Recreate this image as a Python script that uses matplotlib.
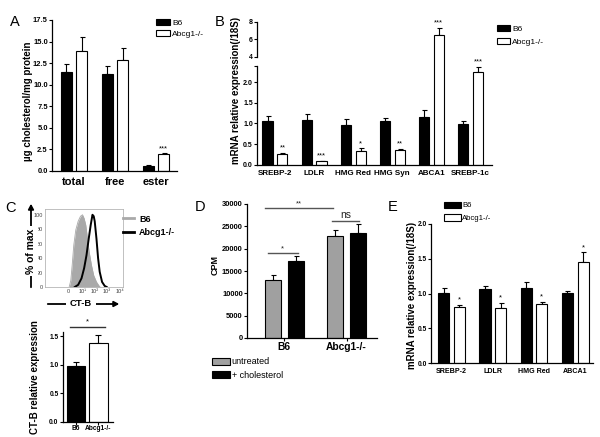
import numpy as np
import matplotlib
matplotlib.use('Agg')
import matplotlib.pyplot as plt
from matplotlib.patches import FancyArrowPatch

plt.rcParams['font.family'] = ['Liberation Sans', 'DejaVu Sans']
plt.rcParams['font.weight'] = 'bold'
plt.rcParams['axes.linewidth'] = 0.9

# ---------------- data ----------------
# Panel A
a_cats = ['total', 'free', 'ester']
a_b6 = [11.5, 11.2, 0.6]
a_b6_err = [0.9, 1.0, 0.1]
a_ko = [13.9, 12.8, 1.95]
a_ko_err = [1.6, 1.5, 0.1]
a_sig = ['', '', '***']

# Panel B
b_cats = ['SREBP-2', 'LDLR', 'HMG Red', 'HMG Syn', 'ABCA1', 'SREBP-1c']
b_b6 = [1.07, 1.09, 0.96, 1.05, 1.16, 0.99]
b_b6_err = [0.11, 0.13, 0.14, 0.08, 0.17, 0.08]
b_ko = [0.27, 0.08, 0.34, 0.35, 6.5, 2.24]
b_ko_err = [0.02, 0.01, 0.06, 0.04, 0.78, 0.14]
b_sig = ['**', '***', '*', '**', '***', '***']
b_yticks = [0, 0.5, 1.0, 1.5, 2.0, 4, 6, 8]
b_yticklabels = ['0.0', '0.5', '1.0', '1.5', '2.0', '4', '6', '8']

# Panel C histogram (x in display decades: 0, 10^1 ... 10^4)
h_ticks = [0, 1.12, 2.12, 3.12, 4.12]
h_ticklabels = ['0', '10¹', '10²', '10³', '10⁴']
h_b6_x = [0.08, 0.21, 0.32, 0.45, 0.61, 0.80, 0.99, 1.15, 1.28, 1.41, 1.55, 1.68, 1.87, 2.05, 2.27, 2.48, 2.56]
h_b6_y = [0, 9, 30, 58, 79, 91, 98, 100, 95, 86, 67, 49, 30, 16, 7, 1.5, 0]
h_ko_x = [0.53, 0.80, 1.07, 1.28, 1.47, 1.65, 1.81, 1.95, 2.05, 2.13, 2.27, 2.40, 2.53, 2.72, 2.93, 3.09]
h_ko_y = [0, 3, 12, 26, 44, 67, 86, 100, 98, 91, 67, 40, 21, 7, 1.5, 0]

# Panel C bars
c_groups = ['B6', 'Abcg1-/-']
c_vals = [0.98, 1.38]
c_err = [0.06, 0.15]

# Panel D
d_groups = ['B6', 'Abcg1-/-']
d_untreated = [12900, 22800]
d_untreated_err = [1100, 1350]
d_chol = [17200, 23400]
d_chol_err = [1100, 2100]

# Panel E
e_cats = ['SREBP-2', 'LDLR', 'HMG Red', 'ABCA1']
e_b6 = [1.01, 1.06, 1.075, 1.01]
e_b6_err = [0.065, 0.05, 0.085, 0.03]
e_ko = [0.80, 0.79, 0.85, 1.45]
e_ko_err = [0.04, 0.08, 0.03, 0.14]
e_sig = ['*', '*', '*', '*']

# ---------------- layout helpers ----------------
W, H = 600, 437
fig = plt.figure(figsize=(6, 4.37), dpi=100)


def fx(x):
    return x / W


def fy(y):
    return 1 - y / H


def add_ax(x0, y0, x1, y1):
    return fig.add_axes([x0 / W, 1 - y1 / H, (x1 - x0) / W, (y1 - y0) / H])


def style(ax, yfs, xfs, xtick_len=0, xpad=3.5):
    for s in ['top', 'right']:
        ax.spines[s].set_visible(False)
    ax.tick_params(axis='y', direction='out', length=2.2, width=0.8, pad=0.8, labelsize=yfs)
    ax.tick_params(axis='x', direction='out', length=xtick_len, width=0.8, pad=xpad, labelsize=xfs)


def grouped(ax, vals1, err1, vals2, err2, off, width, c1, c2):
    n = len(vals1)
    x = np.arange(n)
    b1 = ax.bar(x - off, vals1, width, color=c1, edgecolor='k', lw=0.8, zorder=2)
    b2 = ax.bar(x + off, vals2, width, color=c2, edgecolor='k', lw=0.8, zorder=2)
    ax.errorbar(x - off, vals1, yerr=[np.zeros(n), err1], fmt='none', ecolor='k',
                elinewidth=0.8, capsize=1.8, capthick=0.8, zorder=1.5)
    ax.errorbar(x + off, vals2, yerr=[np.zeros(n), err2], fmt='none', ecolor='k',
                elinewidth=0.8, capsize=1.8, capthick=0.8, zorder=1.5)
    return x, b1, b2


def stars(ax, xs, vals, errs, sigs, fs=5.5):
    for x, v, e, s in zip(xs, vals, errs, sigs):
        if s:
            ax.annotate(s, (x, v + e), xytext=(0, 0.8), textcoords='offset points',
                        ha='center', va='bottom', fontsize=fs, fontweight='normal')


def legend(ax, handles, labels, x, y, fs, hl, hh, ls, tp=0.25, weight='normal'):
    ax.legend(handles, labels, loc='upper left', bbox_to_anchor=(fx(x), fy(y)),
              bbox_transform=fig.transFigure, frameon=False, borderpad=0,
              borderaxespad=0, handlelength=hl, handleheight=hh, labelspacing=ls,
              handletextpad=tp, prop={'size': fs, 'weight': weight})


def ylab(ax, text, px, py, box, fs=7):
    x0, y0, x1, y1 = box
    ax.set_ylabel(text, fontsize=fs, fontweight='bold', va='center')
    ax.yaxis.set_label_coords((px - x0) / (x1 - x0), (y1 - py) / (y1 - y0))


def letter(t, x, y):
    fig.text(fx(x), fy(y), t, fontsize=10.5, fontweight='normal', ha='center', va='center')


# ---------------- Panel A ----------------
A = (52, 20, 177, 170.7)
axA = add_ax(*A)
xA, bA1, bA2 = grouped(axA, a_b6, a_b6_err, a_ko, a_ko_err, 0.19, 0.27, 'black', 'white')
stars(axA, xA + 0.19, a_ko, a_ko_err, a_sig)
axA.set_xlim(-0.54, 2.51)
axA.set_ylim(0, 17.5)
axA.set_yticks(np.arange(0, 17.6, 2.5))
axA.set_yticklabels([f'{v:.1f}' for v in np.arange(0, 17.6, 2.5)])
axA.set_xticks(xA)
axA.set_xticklabels(a_cats)
style(axA, 5.4, 8, xpad=4.5)
ylab(axA, 'µg cholesterol/mg protein', 28, 101, A)
legend(axA, [bA1, bA2], ['B6', 'Abcg1-/-'], 156, 19, 6, 1.68, 0.72, 0.36)
letter('A', 15, 22)

# ---------------- Panel B (broken axis) ----------------
b_data_bp = [-100, 0, 2.4, 4, 8, 100]
b_disp_bp = [-100, 0, 2.4, 2.618, 3.466, 3.466 + 92 * 0.212]


def b_fwd(v):
    return np.interp(v, b_data_bp, b_disp_bp)


def b_inv(v):
    return np.interp(v, b_disp_bp, b_data_bp)


B = (257, 21.7, 492, 164.7)
axB = add_ax(*B)
axB.set_yscale('function', functions=(b_fwd, b_inv))
xB, bB1, bB2 = grouped(axB, b_b6, b_b6_err, b_ko, b_ko_err, 0.19, 0.26, 'black', 'white')
stars(axB, xB + 0.19, b_ko, b_ko_err, b_sig)
axB.set_xlim(-0.46, 5.55)
axB.set_ylim(0, 8)
axB.set_yticks(b_yticks + [2.4])
axB.set_yticklabels(b_yticklabels + [''])
axB.set_xticks(xB)
axB.set_xticklabels(b_cats)
style(axB, 5, 5.8)
axB.spines['left'].set_bounds(0, 2.4)
axB.plot([0, 0], [4, 8], color='k', lw=0.9, transform=axB.get_yaxis_transform(), clip_on=False)
ylab(axB, 'mRNA relative expression(/18S)', 236, 90.5, B)
legend(axB, [bB1, bB2], ['B6', 'Abcg1-/-'], 497, 25, 6, 1.56, 0.78, 0.56)
letter('B', 220, 22)

# ---------------- Panel C histogram ----------------
HC = (45, 209, 123, 287)
axH = add_ax(*HC)
axH.fill_between(h_b6_x, h_b6_y, color='#a9a9a9', lw=0)
lb6, = axH.plot(h_b6_x, h_b6_y, color='#a9a9a9', lw=0.6)
lko, = axH.plot(h_ko_x, h_ko_y, color='black', lw=1.4)
axH.set_xlim(-1.86, 4.4)
axH.set_ylim(0, 108)
axH.set_yticks([0, 20, 40, 60, 80, 100])
axH.set_xticks(h_ticks)
axH.set_xticklabels(h_ticklabels)
for s in axH.spines.values():
    s.set_color('#b5b5b5')
    s.set_linewidth(0.6)
axH.tick_params(length=0, labelsize=4, labelcolor='#444444', pad=1.5)
for t in axH.get_xticklabels() + axH.get_yticklabels():
    t.set_fontweight('normal')
legend(axH, [lb6, lko], ['B6', 'Abcg1-/-'], 123, 214.5, 6.5, 1.2, 0.7, 0.55, tp=0.6, weight='bold')
for lh in axH.get_legend().get_lines():
    lh.set_linewidth(2.0)

# arrows of flow plot
fig.add_artist(FancyArrowPatch((fx(31), fy(290)), (fx(31), fy(201)), transform=fig.transFigure,
                               arrowstyle='-|>,head_length=3,head_width=1.6', lw=1.3, color='k'))
fig.text(fx(31), fy(251), '% of max', rotation=90, ha='center', va='center', fontsize=7.5,
         fontweight='bold', bbox=dict(fc='white', ec='none', pad=1.5))
fig.add_artist(FancyArrowPatch((fx(45), fy(304)), (fx(122), fy(304)), transform=fig.transFigure,
                               arrowstyle='-|>,head_length=3,head_width=1.6', lw=1.3, color='k'))
fig.text(fx(81), fy(304), 'CT-B', ha='center', va='center', fontsize=6.8,
         fontweight='bold', bbox=dict(fc='white', ec='none', pad=2.5))
letter('C', 10, 208)

# ---------------- Panel C bars ----------------
CB = (62.7, 332, 112.7, 421.7)
axC = add_ax(*CB)
xC = np.arange(len(c_groups))
axC.bar(xC, c_vals, 0.81, color=['black', 'white'], edgecolor='k', lw=0.8, zorder=2)
axC.errorbar(xC, c_vals, yerr=[np.zeros(len(c_vals)), c_err], fmt='none', ecolor='k',
             elinewidth=0.8, capsize=2.2, capthick=0.8, zorder=1.5)
axC.set_xlim(-0.58, 1.63)
axC.set_ylim(0, 1.575)
axC.set_yticks([0, 0.5, 1.0, 1.5])
axC.set_yticklabels(['0.0', '0.5', '1.0', '1.5'])
axC.set_xticks(xC)
axC.set_xticklabels(c_groups)
style(axC, 4.8, 4.8, xtick_len=1.8, xpad=0.8)
axC.plot([xC[0] - 0.26, xC[1] + 0.28], [1.67, 1.67], color='#333333', lw=1.0, clip_on=False)
axC.text((xC[0] + xC[1]) / 2, 1.69, '*', ha='center', va='bottom', fontsize=5.5, fontweight='normal')
ylab(axC, 'CT-B relative expression', 35, 377.5, CB)

# ---------------- Panel D ----------------
D = (247, 204, 377, 338)
axD = add_ax(*D)
xD, bD1, bD2 = grouped(axD, d_untreated, d_untreated_err, d_chol, d_chol_err, 0.185, 0.26,
                       '#a0a0a0', 'black')
axD.set_xlim(-0.6, 1.49)
axD.set_ylim(0, 30000)
axD.set_yticks(np.arange(0, 30001, 5000))
axD.set_xticks(xD)
axD.set_xticklabels(d_groups)
style(axD, 5.4, 7.4, xtick_len=2, xpad=1)
sig_d = [(-0.31, 0.78, 29000, '**', 5.5), (-0.27, 0.22, 19050, '*', 5.5), (0.77, 1.20, 26200, 'ns', 7.5)]
for x0, x1, yv, s, fs in sig_d:
    axD.plot([x0, x1], [yv, yv], color='#555555', lw=1.0, clip_on=False)
    axD.text((x0 + x1) / 2, yv + 150, s, ha='center', va='bottom', fontsize=fs,
             fontweight='normal', color='#222222')
ylab(axD, 'CPM', 215.5, 265, D, fs=6.5)
legend(axD, [bD1, bD2], ['untreated', '+ cholesterol'], 212, 357.5, 6.5, 1.96, 0.81, 0.5, tp=0.2)
letter('D', 200, 207)

# ---------------- Panel E ----------------
E = (431, 224, 593, 363)
axE = add_ax(*E)
xE, bE1, bE2 = grouped(axE, e_b6, e_b6_err, e_ko, e_ko_err, 0.19, 0.27, 'black', 'white')
stars(axE, xE + 0.19, e_ko, e_ko_err, e_sig)
axE.set_xlim(-0.5, 3.43)
axE.set_ylim(0, 2)
axE.set_yticks([0, 0.5, 1.0, 1.5, 2.0])
axE.set_yticklabels(['0.0', '0.5', '1.0', '1.5', '2.0'])
axE.set_xticks(xE)
axE.set_xticklabels(e_cats)
style(axE, 4.8, 5.1)
ylab(axE, 'mRNA relative expression(/18S)', 412, 295, E)
legend(axE, [bE1, bE2], ['B6', 'Abcg1-/-'], 444, 201.5, 5.6, 2.15, 0.86, 0.66, tp=0.2)
letter('E', 393, 207)

fig.savefig('out.png', dpi=100)
